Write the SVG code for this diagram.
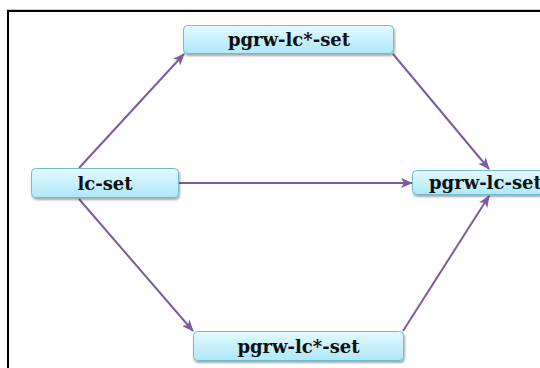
<svg xmlns="http://www.w3.org/2000/svg" width="540" height="368" viewBox="0 0 540 368">
  <defs>
    <linearGradient id="boxFill" x1="0" y1="0" x2="0" y2="1">
      <stop offset="0" stop-color="#e4f9fe"/>
      <stop offset="1" stop-color="#aee8f8"/>
    </linearGradient>
    <filter id="shadow" x="-10%" y="-30%" width="120%" height="170%">
      <feGaussianBlur in="SourceAlpha" stdDeviation="1.2"/>
      <feOffset dx="0.5" dy="1.5" result="b"/>
      <feComponentTransfer><feFuncA type="linear" slope="0.35"/></feComponentTransfer>
      <feMerge><feMergeNode/><feMergeNode in="SourceGraphic"/></feMerge>
    </filter>
    <marker id="arrow" viewBox="0 0 12 10" refX="11" refY="5" markerWidth="12" markerHeight="10" markerUnits="userSpaceOnUse" orient="auto">
      <path d="M0,0 L12,5 L0,10 L3,5 Z" fill="#7b5d9f"/>
    </marker>
  </defs>
  <style>
    .box { fill: url(#boxFill); stroke: #72bcd3; stroke-width: 1; filter: url(#shadow); }
    .label { font-family: "DejaVu Serif", "Liberation Serif", serif; font-weight: bold; font-size: 18px; fill: #111; }
    .edge { stroke: #7b5d9f; stroke-width: 2; fill: none; marker-end: url(#arrow); }
  </style>

  <rect width="540" height="368" fill="#ffffff"/>
  <line x1="7" y1="9.5" x2="540" y2="9.5" stroke="#c8c8c8" stroke-width="1"/>
  <rect x="8" y="11" width="620" height="420" fill="none" stroke="#000" stroke-width="2"/>

  <g id="connectors">
    <line class="edge" x1="79" y1="168" x2="184" y2="54"/>
    <line class="edge" x1="79" y1="199" x2="193" y2="331"/>
    <line class="edge" x1="179" y1="183" x2="412" y2="183"/>
    <line class="edge" x1="393" y1="54" x2="489" y2="169"/>
    <line class="edge" x1="403" y1="331" x2="489" y2="196"/>
  </g>

  <g id="node-top">
    <rect class="box" x="183.5" y="25.5" width="210" height="28" rx="4"/>
    <text class="label" x="289" y="46" text-anchor="middle">pgrw-lc*-set</text>
  </g>

  <g id="node-lc-set">
    <rect class="box" x="31.5" y="168.5" width="147" height="29" rx="4"/>
    <text class="label" x="105" y="189.5" text-anchor="middle">lc-set</text>
  </g>

  <g id="node-right">
    <rect class="box" x="412.5" y="170.5" width="160" height="24" rx="4"/>
    <text class="label" x="429" y="189">pgrw-lc-set</text>
  </g>

  <g id="node-bottom">
    <rect class="box" x="193.5" y="331.5" width="210" height="29" rx="4"/>
    <text class="label" x="298.5" y="352.5" text-anchor="middle">pgrw-lc*-set</text>
  </g>
</svg>
